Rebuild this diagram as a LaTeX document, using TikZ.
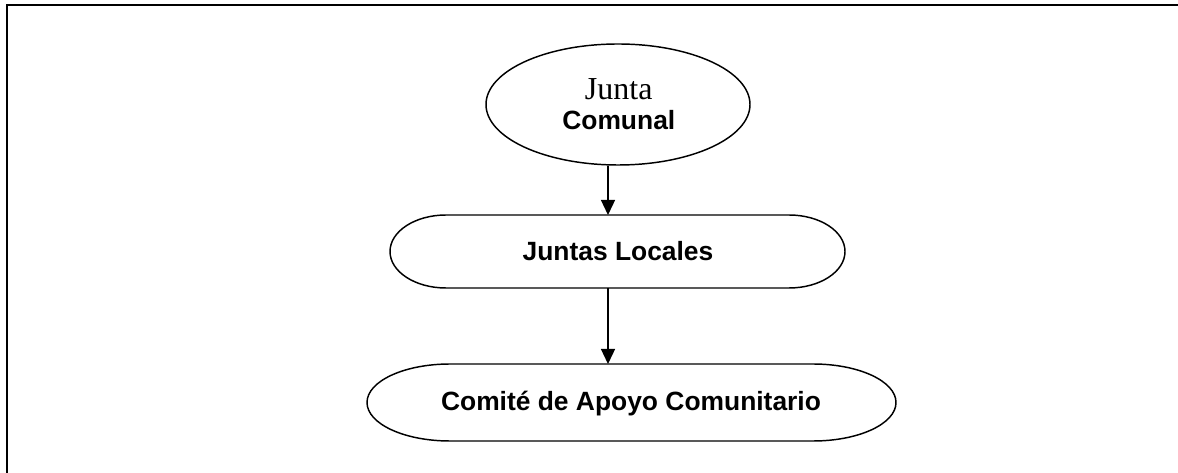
\documentclass[tikz,border=0pt]{standalone}
\usepackage{fontspec}
\setmainfont{Liberation Serif}
\newfontfamily\arialfont{Liberation Sans}
\usetikzlibrary{shapes.geometric,arrows.meta}
\newcommand\termpath[3]{%
  \draw[shapeline] ([xshift=#2]#1.north west) -- ([xshift=-#2]#1.north east)
    arc[start angle=90,end angle=-90,x radius=#2,y radius=#3]
    -- ([xshift=#2]#1.south west)
    arc[start angle=270,end angle=90,x radius=#2,y radius=#3] -- cycle;}
\begin{document}
\begin{tikzpicture}[x=0.75pt,y=-0.75pt,
  shapeline/.style={line width=1.1pt},
  arr/.style={line width=1pt,-{Triangle[width=10.5pt,length=11.25pt]}},
  lbl/.style={font=\arialfont\bfseries\fontsize{19.8}{24}\selectfont, inner sep=0pt, anchor=base},
  serlbl/.style={font=\fontsize{24}{28}\selectfont, inner sep=0pt, anchor=base},
  holder/.style={rectangle, inner sep=0pt, outer sep=0pt},
  frame/.style={line width=1.6pt}]
\useasboundingbox (0,0) rectangle (1178,473);
\draw[frame] (7,473) -- (7,5) -- (1178,5);
% Junta Comunal
\node[draw, ellipse, shapeline, minimum width=198pt, minimum height=90.75pt, inner sep=0pt] (jc) at (618,104.5) {};
\node[serlbl] (t1) at (618.7,100) {Junta};
\node[lbl] (t2) at (618.8,130) {Comunal};
% Juntas Locales
\node[holder, minimum width=341.25pt, minimum height=54.75pt] (jl) at (617.5,251.5) {};
\termpath{jl}{42pt}{27.375pt}
\node[lbl] (t3) at (618,260.7) {Juntas Locales};
% Comite
\node[holder, minimum width=396.75pt, minimum height=57.75pt] (cm) at (631.5,402.5) {};
\termpath{cm}{62.25pt}{28.875pt}
\node[lbl] (t4) at (631,410.5) {Comité de Apoyo Comunitario};
% arrows
\coordinate (ax) at (608,0);
\draw[arr] (jc.south -| ax) -- (jl.north -| ax);
\draw[arr] (jl.south -| ax) -- (cm.north -| ax);
\end{tikzpicture}
\end{document}
